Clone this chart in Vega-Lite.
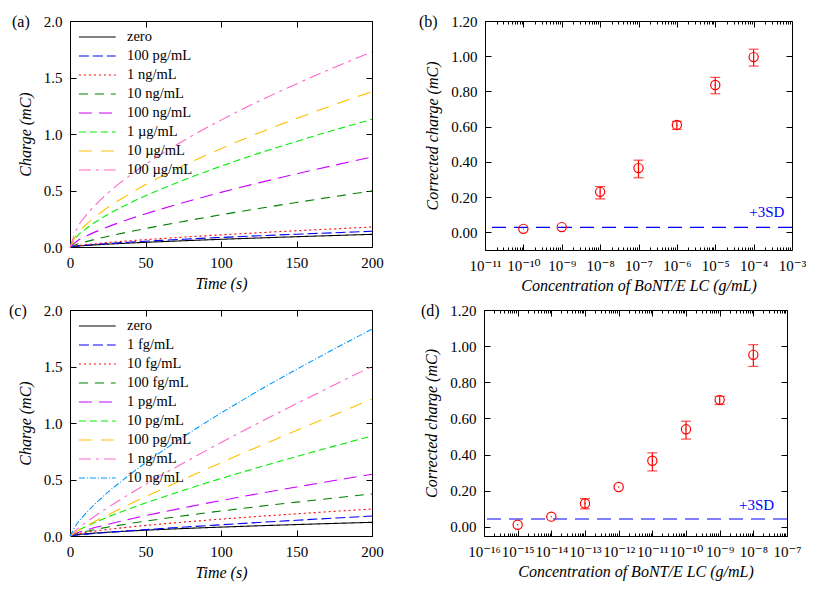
{
  "$schema": "https://vega.github.io/schema/vega-lite/v6.json",
  "background": "white",
  "padding": {"left": 8, "top": 13, "right": 5, "bottom": 5},
  "config": {
    "view": {"stroke": "black", "strokeWidth": 1},
    "font": "Liberation Serif",
    "axis": {"labelFont": "Liberation Serif, DejaVu Serif", "labelFontSize": 15, "labelColor": "black", "titleFont": "Liberation Serif", "titleFontSize": 16, "titleFontWeight": "normal", "titleFontStyle": "italic", "titleColor": "black", "tickColor": "black", "tickWidth": 1, "domain": false, "grid": false, "tickSize": -6, "labelPadding": 14, "labelFlush": false, "labelOverlap": false},
    "legend": {"orient": "top-left", "offset": 8, "padding": 0, "labelFont": "Liberation Serif", "labelFontSize": 14.5, "labelColor": "black", "symbolType": "M-1,0H4.2", "symbolSize": 200, "symbolStrokeWidth": 1.2, "labelOffset": 33, "rowPadding": 4},
    "title": {"font": "Liberation Serif", "fontSize": 16, "fontWeight": "normal", "color": "black", "anchor": "start", "frame": "group", "offset": 0, "baseline": "middle"}
  },
  "datasets": {
    "a_lines": [
      {"s":"zero","t":0,"q":0},{"s":"zero","t":5,"q":0.0079},{"s":"zero","t":10,"q":0.013},{"s":"zero","t":20,"q":0.0213},{"s":"zero","t":40,"q":0.0352},{"s":"zero","t":60,"q":0.0471},{"s":"zero","t":80,"q":0.0579},{"s":"zero","t":100,"q":0.068},{"s":"zero","t":125,"q":0.0799},{"s":"zero","t":150,"q":0.0911},{"s":"zero","t":175,"q":0.1017},{"s":"zero","t":200,"q":0.112},
      {"s":"100 pg/mL","t":0,"q":0},{"s":"100 pg/mL","t":5,"q":0.0098},{"s":"100 pg/mL","t":10,"q":0.0161},{"s":"100 pg/mL","t":20,"q":0.0265},{"s":"100 pg/mL","t":40,"q":0.0437},{"s":"100 pg/mL","t":60,"q":0.0584},{"s":"100 pg/mL","t":80,"q":0.0718},{"s":"100 pg/mL","t":100,"q":0.0844},{"s":"100 pg/mL","t":125,"q":0.0991},{"s":"100 pg/mL","t":150,"q":0.113},{"s":"100 pg/mL","t":175,"q":0.1263},{"s":"100 pg/mL","t":200,"q":0.139},
      {"s":"1 ng/mL","t":0,"q":0},{"s":"1 ng/mL","t":5,"q":0.0124},{"s":"1 ng/mL","t":10,"q":0.0205},{"s":"1 ng/mL","t":20,"q":0.0337},{"s":"1 ng/mL","t":40,"q":0.0556},{"s":"1 ng/mL","t":60,"q":0.0744},{"s":"1 ng/mL","t":80,"q":0.0915},{"s":"1 ng/mL","t":100,"q":0.1075},{"s":"1 ng/mL","t":125,"q":0.1262},{"s":"1 ng/mL","t":150,"q":0.1439},{"s":"1 ng/mL","t":175,"q":0.1608},{"s":"1 ng/mL","t":200,"q":0.177},
      {"s":"10 ng/mL","t":0,"q":0},{"s":"10 ng/mL","t":5,"q":0.0259},{"s":"10 ng/mL","t":10,"q":0.0451},{"s":"10 ng/mL","t":20,"q":0.0786},{"s":"10 ng/mL","t":40,"q":0.1369},{"s":"10 ng/mL","t":60,"q":0.1893},{"s":"10 ng/mL","t":80,"q":0.2383},{"s":"10 ng/mL","t":100,"q":0.285},{"s":"10 ng/mL","t":125,"q":0.3406},{"s":"10 ng/mL","t":150,"q":0.3941},{"s":"10 ng/mL","t":175,"q":0.4458},{"s":"10 ng/mL","t":200,"q":0.496},
      {"s":"100 ng/mL","t":0,"q":0},{"s":"100 ng/mL","t":5,"q":0.0559},{"s":"100 ng/mL","t":10,"q":0.0921},{"s":"100 ng/mL","t":20,"q":0.1516},{"s":"100 ng/mL","t":40,"q":0.25},{"s":"100 ng/mL","t":60,"q":0.3345},{"s":"100 ng/mL","t":80,"q":0.4115},{"s":"100 ng/mL","t":100,"q":0.4833},{"s":"100 ng/mL","t":125,"q":0.5677},{"s":"100 ng/mL","t":150,"q":0.6471},{"s":"100 ng/mL","t":175,"q":0.7231},{"s":"100 ng/mL","t":200,"q":0.796},
      {"s":"1 µg/mL","t":0,"q":0},{"s":"1 µg/mL","t":5,"q":0.099},{"s":"1 µg/mL","t":10,"q":0.1565},{"s":"1 µg/mL","t":20,"q":0.2471},{"s":"1 µg/mL","t":40,"q":0.3908},{"s":"1 µg/mL","t":60,"q":0.5103},{"s":"1 µg/mL","t":80,"q":0.6171},{"s":"1 µg/mL","t":100,"q":0.7154},{"s":"1 µg/mL","t":125,"q":0.8287},{"s":"1 µg/mL","t":150,"q":0.9345},{"s":"1 µg/mL","t":175,"q":1.0347},{"s":"1 µg/mL","t":200,"q":1.13},
      {"s":"10 µg/mL","t":0,"q":0},{"s":"10 µg/mL","t":5,"q":0.1205},{"s":"10 µg/mL","t":10,"q":0.1904},{"s":"10 µg/mL","t":20,"q":0.3007},{"s":"10 µg/mL","t":40,"q":0.4755},{"s":"10 µg/mL","t":60,"q":0.621},{"s":"10 µg/mL","t":80,"q":0.7509},{"s":"10 µg/mL","t":100,"q":0.8705},{"s":"10 µg/mL","t":125,"q":1.0084},{"s":"10 µg/mL","t":150,"q":1.1371},{"s":"10 µg/mL","t":175,"q":1.2591},{"s":"10 µg/mL","t":200,"q":1.375},
      {"s":"100 µg/mL","t":0,"q":0},{"s":"100 µg/mL","t":5,"q":0.1754},{"s":"100 µg/mL","t":10,"q":0.2693},{"s":"100 µg/mL","t":20,"q":0.4139},{"s":"100 µg/mL","t":40,"q":0.6362},{"s":"100 µg/mL","t":60,"q":0.8186},{"s":"100 µg/mL","t":80,"q":0.9781},{"s":"100 µg/mL","t":100,"q":1.1228},{"s":"100 µg/mL","t":125,"q":1.2902},{"s":"100 µg/mL","t":150,"q":1.4431},{"s":"100 µg/mL","t":175,"q":1.5888},{"s":"100 µg/mL","t":200,"q":1.726}
    ],
    "c_lines": [
      {"s":"zero","t":0,"q":0},{"s":"zero","t":5,"q":0.0123},{"s":"zero","t":10,"q":0.0189},{"s":"zero","t":20,"q":0.029},{"s":"zero","t":40,"q":0.0446},{"s":"zero","t":60,"q":0.0574},{"s":"zero","t":80,"q":0.0686},{"s":"zero","t":100,"q":0.0787},{"s":"zero","t":125,"q":0.0904},{"s":"zero","t":150,"q":0.1012},{"s":"zero","t":175,"q":0.1114},{"s":"zero","t":200,"q":0.121},
      {"s":"1 fg/mL","t":0,"q":0},{"s":"1 fg/mL","t":5,"q":0.0083},{"s":"1 fg/mL","t":10,"q":0.0147},{"s":"1 fg/mL","t":20,"q":0.0262},{"s":"1 fg/mL","t":40,"q":0.0466},{"s":"1 fg/mL","t":60,"q":0.0652},{"s":"1 fg/mL","t":80,"q":0.0828},{"s":"1 fg/mL","t":100,"q":0.0996},{"s":"1 fg/mL","t":125,"q":0.1198},{"s":"1 fg/mL","t":150,"q":0.1394},{"s":"1 fg/mL","t":175,"q":0.1584},{"s":"1 fg/mL","t":200,"q":0.177},
      {"s":"10 fg/mL","t":0,"q":0},{"s":"10 fg/mL","t":5,"q":0.0194},{"s":"10 fg/mL","t":10,"q":0.0312},{"s":"10 fg/mL","t":20,"q":0.0499},{"s":"10 fg/mL","t":40,"q":0.08},{"s":"10 fg/mL","t":60,"q":0.1054},{"s":"10 fg/mL","t":80,"q":0.1282},{"s":"10 fg/mL","t":100,"q":0.1492},{"s":"10 fg/mL","t":125,"q":0.1735},{"s":"10 fg/mL","t":150,"q":0.1965},{"s":"10 fg/mL","t":175,"q":0.2183},{"s":"10 fg/mL","t":200,"q":0.239},
      {"s":"100 fg/mL","t":0,"q":0},{"s":"100 fg/mL","t":5,"q":0.0234},{"s":"100 fg/mL","t":10,"q":0.0393},{"s":"100 fg/mL","t":20,"q":0.0661},{"s":"100 fg/mL","t":40,"q":0.1113},{"s":"100 fg/mL","t":60,"q":0.1508},{"s":"100 fg/mL","t":80,"q":0.1872},{"s":"100 fg/mL","t":100,"q":0.2212},{"s":"100 fg/mL","t":125,"q":0.2615},{"s":"100 fg/mL","t":150,"q":0.2997},{"s":"100 fg/mL","t":175,"q":0.3365},{"s":"100 fg/mL","t":200,"q":0.372},
      {"s":"1 pg/mL","t":0,"q":0},{"s":"1 pg/mL","t":5,"q":0.0286},{"s":"1 pg/mL","t":10,"q":0.0497},{"s":"1 pg/mL","t":20,"q":0.0865},{"s":"1 pg/mL","t":40,"q":0.1508},{"s":"1 pg/mL","t":60,"q":0.2084},{"s":"1 pg/mL","t":80,"q":0.2624},{"s":"1 pg/mL","t":100,"q":0.3137},{"s":"1 pg/mL","t":125,"q":0.3749},{"s":"1 pg/mL","t":150,"q":0.4338},{"s":"1 pg/mL","t":175,"q":0.4907},{"s":"1 pg/mL","t":200,"q":0.546},
      {"s":"10 pg/mL","t":0,"q":0},{"s":"10 pg/mL","t":5,"q":0.0463},{"s":"10 pg/mL","t":10,"q":0.0805},{"s":"10 pg/mL","t":20,"q":0.1403},{"s":"10 pg/mL","t":40,"q":0.2443},{"s":"10 pg/mL","t":60,"q":0.3378},{"s":"10 pg/mL","t":80,"q":0.4252},{"s":"10 pg/mL","t":100,"q":0.5085},{"s":"10 pg/mL","t":125,"q":0.6076},{"s":"10 pg/mL","t":150,"q":0.7031},{"s":"10 pg/mL","t":175,"q":0.7953},{"s":"10 pg/mL","t":200,"q":0.885},
      {"s":"100 pg/mL","t":0,"q":0},{"s":"100 pg/mL","t":5,"q":0.0438},{"s":"100 pg/mL","t":10,"q":0.0817},{"s":"100 pg/mL","t":20,"q":0.1522},{"s":"100 pg/mL","t":40,"q":0.2844},{"s":"100 pg/mL","t":60,"q":0.4093},{"s":"100 pg/mL","t":80,"q":0.5307},{"s":"100 pg/mL","t":100,"q":0.6483},{"s":"100 pg/mL","t":125,"q":0.7926},{"s":"100 pg/mL","t":150,"q":0.9339},{"s":"100 pg/mL","t":175,"q":1.073},{"s":"100 pg/mL","t":200,"q":1.21},
      {"s":"1 ng/mL","t":0,"q":0},{"s":"1 ng/mL","t":5,"q":0.0629},{"s":"1 ng/mL","t":10,"q":0.114},{"s":"1 ng/mL","t":20,"q":0.2069},{"s":"1 ng/mL","t":40,"q":0.3759},{"s":"1 ng/mL","t":60,"q":0.5328},{"s":"1 ng/mL","t":80,"q":0.6822},{"s":"1 ng/mL","t":100,"q":0.8265},{"s":"1 ng/mL","t":125,"q":1.0014},{"s":"1 ng/mL","t":150,"q":1.1706},{"s":"1 ng/mL","t":175,"q":1.3373},{"s":"1 ng/mL","t":200,"q":1.5},
      {"s":"10 ng/mL","t":0,"q":0},{"s":"10 ng/mL","t":5,"q":0.1151},{"s":"10 ng/mL","t":10,"q":0.1934},{"s":"10 ng/mL","t":20,"q":0.3254},{"s":"10 ng/mL","t":40,"q":0.5474},{"s":"10 ng/mL","t":60,"q":0.7419},{"s":"10 ng/mL","t":80,"q":0.9207},{"s":"10 ng/mL","t":100,"q":1.0879},{"s":"10 ng/mL","t":125,"q":1.2865},{"s":"10 ng/mL","t":150,"q":1.4744},{"s":"10 ng/mL","t":175,"q":1.6556},{"s":"10 ng/mL","t":200,"q":1.83}
    ],
    "b_pts": [
      {"c":1e-10,"v":0.02,"lo":null,"hi":null},
      {"c":1e-9,"v":0.03,"lo":null,"hi":null},
      {"c":1e-8,"v":0.23,"lo":0.19,"hi":0.26},
      {"c":1e-7,"v":0.365,"lo":0.31,"hi":0.41},
      {"c":1e-6,"v":0.61,"lo":0.585,"hi":0.63},
      {"c":1e-5,"v":0.837,"lo":0.787,"hi":0.88},
      {"c":1e-4,"v":0.995,"lo":0.944,"hi":1.04}
    ],
    "d_pts": [
      {"c":1e-15,"v":0.012,"lo":null,"hi":null},
      {"c":1e-14,"v":0.057,"lo":null,"hi":null},
      {"c":1e-13,"v":0.13,"lo":0.1,"hi":0.157},
      {"c":1e-12,"v":0.221,"lo":null,"hi":null},
      {"c":1e-11,"v":0.366,"lo":0.31,"hi":0.41},
      {"c":1e-10,"v":0.54,"lo":0.486,"hi":0.585},
      {"c":1e-9,"v":0.703,"lo":0.677,"hi":0.722},
      {"c":1e-8,"v":0.952,"lo":0.888,"hi":1.008}
    ],
    "b_ref": [{"v":0.028,"c":2.2e-4,"tv":0.118,"label":"+3SD"}],
    "d_ref": [{"v":0.044,"c":1.25e-8,"tv":0.124,"label":"+3SD"}]
  },
  "resolve": {"scale": {"x": "independent", "y": "independent", "color": "independent", "strokeDash": "independent"}, "legend": {"color": "independent", "strokeDash": "independent"}},
  "spacing": 8,
  "vconcat": [
    {
      "spacing": 34,
      "resolve": {"scale": {"x": "independent", "y": "independent", "color": "independent", "strokeDash": "independent"}, "legend": {"color": "independent", "strokeDash": "independent"}},
      "hconcat": [
        {
          "width": 302, "height": 226,
          "title": {"text": "(a)", "dx": -58, "dy": 20},
          "data": {"name": "a_lines"},
          "resolve": {"axis": {"x": "independent", "y": "independent"}},
          "layer": [
            {
              "mark": {"type": "line", "strokeWidth": 1.1, "interpolate": "monotone"},
              "encoding": {
                "x": {"field": "t", "type": "quantitative", "scale": {"domain": [0, 200], "nice": false}, "axis": {"orient": "bottom", "values": [0, 50, 100, 150, 200], "title": "Time (s)", "titlePadding": 5}},
                "y": {"field": "q", "type": "quantitative", "scale": {"domain": [0, 2], "nice": false}, "axis": {"orient": "left", "values": [0, 0.5, 1, 1.5, 2], "format": ".1f", "title": "Charge (mC)", "titlePadding": 10}},
                "color": {"field": "s", "type": "nominal", "scale": {"domain": ["zero", "100 pg/mL", "1 ng/mL", "10 ng/mL", "100 ng/mL", "1 µg/mL", "10 µg/mL", "100 µg/mL"], "range": ["#000000", "#0000FF", "#FF0000", "#008000", "#CC00FF", "#00EE00", "#FFC000", "#FF66CC"]}, "legend": {"title": null}},
                "strokeDash": {"field": "s", "type": "nominal", "scale": {"domain": ["zero", "100 pg/mL", "1 ng/mL", "10 ng/mL", "100 ng/mL", "1 µg/mL", "10 µg/mL", "100 µg/mL"], "range": [[1, 0], [10, 4], [2, 3], [9, 7], [13, 7], [7, 4], [13, 9], [12, 5, 3, 5]]}, "legend": {"title": null}}
              }
            },
            {
              "mark": {"type": "point", "opacity": 0, "size": 1},
              "encoding": {
                "x": {"field": "t", "type": "quantitative", "scale": {"domain": [0, 200], "nice": false}, "axis": {"orient": "top", "values": [0, 50, 100, 150, 200], "labels": false, "title": null}},
                "y": {"field": "q", "type": "quantitative", "scale": {"domain": [0, 2], "nice": false}, "axis": {"orient": "right", "values": [0, 0.5, 1, 1.5, 2], "labels": false, "title": null}}
              }
            }
          ]
        },
        {
          "width": 307, "height": 229,
          "title": {"text": "(b)", "dx": -66, "dy": 20},
          "resolve": {"axis": {"x": "independent", "y": "independent"}},
          "layer": [
            {
              "data": {"name": "b_ref"},
              "mark": {"type": "rule", "color": "#0000FF", "strokeDash": [14, 8], "strokeWidth": 1.2},
              "encoding": {
                "y": {"field": "v", "type": "quantitative", "scale": {"domain": [-0.1, 1.2], "nice": false}, "axis": {"orient": "left", "values": [0, 0.2, 0.4, 0.6, 0.8, 1, 1.2], "format": ".2f", "title": "Corrected charge (mC)", "titlePadding": 10}}
              }
            },
            {
              "data": {"name": "b_ref"},
              "mark": {"type": "text", "color": "#0000FF", "font": "Liberation Serif", "fontSize": 15, "align": "center", "baseline": "middle"},
              "encoding": {
                "x": {"field": "c", "type": "quantitative", "scale": {"type": "log", "domain": [1e-11, 1e-3], "nice": false}, "axis": {"orient": "bottom", "values": [1e-11, 1e-10, 1e-9, 1e-8, 1e-7, 1e-6, 1e-5, 1e-4, 1e-3], "labelExpr": "'10⁻' + (abs(round(log(datum.value)/LN10)) >= 10 ? substring('⁰¹²³⁴⁵⁶⁷⁸⁹', floor(abs(round(log(datum.value)/LN10))/10), floor(abs(round(log(datum.value)/LN10))/10)+1) : '') + substring('⁰¹²³⁴⁵⁶⁷⁸⁹', abs(round(log(datum.value)/LN10)) % 10, abs(round(log(datum.value)/LN10)) % 10 + 1)", "title": "Concentration of BoNT/E LC (g/mL)", "titlePadding": 4}},
                "y": {"field": "tv", "type": "quantitative", "scale": {"domain": [-0.1, 1.2], "nice": false}, "axis": null},
                "text": {"field": "label"}
              }
            },
            {
              "data": {"name": "b_pts"},
              "mark": {"type": "rule", "color": "#FF0000", "strokeWidth": 1.2},
              "encoding": {
                "x": {"field": "c", "type": "quantitative", "scale": {"type": "log", "domain": [1e-11, 1e-3], "nice": false}, "axis": {"orient": "top", "values": [1e-11, 1e-10, 1e-9, 1e-8, 1e-7, 1e-6, 1e-5, 1e-4, 1e-3], "labels": false, "title": null}},
                "y": {"field": "lo", "type": "quantitative", "scale": {"domain": [-0.1, 1.2], "nice": false}, "axis": {"orient": "right", "values": [0, 0.2, 0.4, 0.6, 0.8, 1, 1.2], "labels": false, "title": null}},
                "y2": {"field": "hi"}
              }
            },
            {
              "data": {"name": "b_pts"},
              "mark": {"type": "tick", "orient": "horizontal", "color": "#FF0000", "size": 10, "thickness": 1.2},
              "encoding": {
                "x": {"field": "c", "type": "quantitative", "scale": {"type": "log", "domain": [1e-11, 1e-3], "nice": false}, "axis": {"orient": "bottom", "values": [2e-11,3e-11,4e-11,5e-11,6e-11,7e-11,8e-11,9e-11,2e-10,3e-10,4e-10,5e-10,6e-10,7e-10,8e-10,9e-10,2e-9,3e-9,4e-9,5e-9,6e-9,7e-9,8e-9,9e-9,2e-8,3e-8,4e-8,5e-8,6e-8,7e-8,8e-8,9e-8,2e-7,3e-7,4e-7,5e-7,6e-7,7e-7,8e-7,9e-7,2e-6,3e-6,4e-6,5e-6,6e-6,7e-6,8e-6,9e-6,2e-5,3e-5,4e-5,5e-5,6e-5,7e-5,8e-5,9e-5,2e-4,3e-4,4e-4,5e-4,6e-4,7e-4,8e-4,9e-4], "labels": false, "tickSize": -3, "title": null}},
                "y": {"field": "lo", "type": "quantitative", "scale": {"domain": [-0.1, 1.2], "nice": false}, "axis": null}
              }
            },
            {
              "data": {"name": "b_pts"},
              "mark": {"type": "tick", "orient": "horizontal", "color": "#FF0000", "size": 10, "thickness": 1.2},
              "encoding": {
                "x": {"field": "c", "type": "quantitative", "scale": {"type": "log", "domain": [1e-11, 1e-3], "nice": false}, "axis": {"orient": "top", "values": [2e-11,3e-11,4e-11,5e-11,6e-11,7e-11,8e-11,9e-11,2e-10,3e-10,4e-10,5e-10,6e-10,7e-10,8e-10,9e-10,2e-9,3e-9,4e-9,5e-9,6e-9,7e-9,8e-9,9e-9,2e-8,3e-8,4e-8,5e-8,6e-8,7e-8,8e-8,9e-8,2e-7,3e-7,4e-7,5e-7,6e-7,7e-7,8e-7,9e-7,2e-6,3e-6,4e-6,5e-6,6e-6,7e-6,8e-6,9e-6,2e-5,3e-5,4e-5,5e-5,6e-5,7e-5,8e-5,9e-5,2e-4,3e-4,4e-4,5e-4,6e-4,7e-4,8e-4,9e-4], "labels": false, "tickSize": -3, "title": null}},
                "y": {"field": "hi", "type": "quantitative", "scale": {"domain": [-0.1, 1.2], "nice": false}, "axis": null}
              }
            },
            {
              "data": {"name": "b_pts"},
              "mark": {"type": "point", "shape": "circle", "filled": false, "color": "#FF0000", "strokeWidth": 1.2, "size": 85, "opacity": 1},
              "encoding": {
                "x": {"field": "c", "type": "quantitative", "scale": {"type": "log", "domain": [1e-11, 1e-3], "nice": false}, "axis": null},
                "y": {"field": "v", "type": "quantitative", "scale": {"domain": [-0.1, 1.2], "nice": false}, "axis": null}
              }
            },
            {
              "data": {"name": "b_pts"},
              "mark": {"type": "point", "shape": "circle", "filled": true, "color": "#FF0000", "size": 2, "opacity": 1},
              "encoding": {
                "x": {"field": "c", "type": "quantitative", "scale": {"type": "log", "domain": [1e-11, 1e-3], "nice": false}, "axis": null},
                "y": {"field": "v", "type": "quantitative", "scale": {"domain": [-0.1, 1.2], "nice": false}, "axis": null}
              }
            }
          ]
        }
      ]
    },
    {
      "spacing": 36,
      "resolve": {"scale": {"x": "independent", "y": "independent", "color": "independent", "strokeDash": "independent"}, "legend": {"color": "independent", "strokeDash": "independent"}},
      "hconcat": [
        {
          "width": 302, "height": 226,
          "title": {"text": "(c)", "dx": -61, "dy": 20},
          "data": {"name": "c_lines"},
          "resolve": {"axis": {"x": "independent", "y": "independent"}},
          "layer": [
            {
              "mark": {"type": "line", "strokeWidth": 1.1, "interpolate": "monotone"},
              "encoding": {
                "x": {"field": "t", "type": "quantitative", "scale": {"domain": [0, 200], "nice": false}, "axis": {"orient": "bottom", "values": [0, 50, 100, 150, 200], "title": "Time (s)", "titlePadding": 5}},
                "y": {"field": "q", "type": "quantitative", "scale": {"domain": [0, 2], "nice": false}, "axis": {"orient": "left", "values": [0, 0.5, 1, 1.5, 2], "format": ".1f", "title": "Charge (mC)", "titlePadding": 10}},
                "color": {"field": "s", "type": "nominal", "scale": {"domain": ["zero", "1 fg/mL", "10 fg/mL", "100 fg/mL", "1 pg/mL", "10 pg/mL", "100 pg/mL", "1 ng/mL", "10 ng/mL"], "range": ["#000000", "#0000FF", "#FF0000", "#008000", "#CC00FF", "#00EE00", "#FFC000", "#FF66CC", "#0099FF"]}, "legend": {"title": null}},
                "strokeDash": {"field": "s", "type": "nominal", "scale": {"domain": ["zero", "1 fg/mL", "10 fg/mL", "100 fg/mL", "1 pg/mL", "10 pg/mL", "100 pg/mL", "1 ng/mL", "10 ng/mL"], "range": [[1, 0], [10, 4], [2, 3], [9, 7], [13, 7], [7, 4], [13, 9], [12, 5, 3, 5], [6, 2, 1, 2]]}, "legend": {"title": null}}
              }
            },
            {
              "mark": {"type": "point", "opacity": 0, "size": 1},
              "encoding": {
                "x": {"field": "t", "type": "quantitative", "scale": {"domain": [0, 200], "nice": false}, "axis": {"orient": "top", "values": [0, 50, 100, 150, 200], "labels": false, "title": null}},
                "y": {"field": "q", "type": "quantitative", "scale": {"domain": [0, 2], "nice": false}, "axis": {"orient": "right", "values": [0, 0.5, 1, 1.5, 2], "labels": false, "title": null}}
              }
            }
          ]
        },
        {
          "width": 303, "height": 226,
          "title": {"text": "(d)", "dx": -63, "dy": 20},
          "resolve": {"axis": {"x": "independent", "y": "independent"}},
          "layer": [
            {
              "data": {"name": "d_ref"},
              "mark": {"type": "rule", "color": "#0000FF", "strokeDash": [14, 8], "strokeWidth": 1.2},
              "encoding": {
                "y": {"field": "v", "type": "quantitative", "scale": {"domain": [-0.05, 1.2], "nice": false}, "axis": {"orient": "left", "values": [0, 0.2, 0.4, 0.6, 0.8, 1, 1.2], "format": ".2f", "title": "Corrected charge (mC)", "titlePadding": 10}}
              }
            },
            {
              "data": {"name": "d_ref"},
              "mark": {"type": "text", "color": "#0000FF", "font": "Liberation Serif", "fontSize": 15, "align": "center", "baseline": "middle"},
              "encoding": {
                "x": {"field": "c", "type": "quantitative", "scale": {"type": "log", "domain": [1e-16, 1e-7], "nice": false}, "axis": {"orient": "bottom", "values": [1e-16, 1e-15, 1e-14, 1e-13, 1e-12, 1e-11, 1e-10, 1e-9, 1e-8, 1e-7], "labelExpr": "'10⁻' + (abs(round(log(datum.value)/LN10)) >= 10 ? substring('⁰¹²³⁴⁵⁶⁷⁸⁹', floor(abs(round(log(datum.value)/LN10))/10), floor(abs(round(log(datum.value)/LN10))/10)+1) : '') + substring('⁰¹²³⁴⁵⁶⁷⁸⁹', abs(round(log(datum.value)/LN10)) % 10, abs(round(log(datum.value)/LN10)) % 10 + 1)", "title": "Concentration of BoNT/E LC (g/mL)", "titlePadding": 4}},
                "y": {"field": "tv", "type": "quantitative", "scale": {"domain": [-0.05, 1.2], "nice": false}, "axis": null},
                "text": {"field": "label"}
              }
            },
            {
              "data": {"name": "d_pts"},
              "mark": {"type": "rule", "color": "#FF0000", "strokeWidth": 1.2},
              "encoding": {
                "x": {"field": "c", "type": "quantitative", "scale": {"type": "log", "domain": [1e-16, 1e-7], "nice": false}, "axis": {"orient": "top", "values": [1e-16, 1e-15, 1e-14, 1e-13, 1e-12, 1e-11, 1e-10, 1e-9, 1e-8, 1e-7], "labels": false, "title": null}},
                "y": {"field": "lo", "type": "quantitative", "scale": {"domain": [-0.05, 1.2], "nice": false}, "axis": {"orient": "right", "values": [0, 0.2, 0.4, 0.6, 0.8, 1, 1.2], "labels": false, "title": null}},
                "y2": {"field": "hi"}
              }
            },
            {
              "data": {"name": "d_pts"},
              "mark": {"type": "tick", "orient": "horizontal", "color": "#FF0000", "size": 10, "thickness": 1.2},
              "encoding": {
                "x": {"field": "c", "type": "quantitative", "scale": {"type": "log", "domain": [1e-16, 1e-7], "nice": false}, "axis": {"orient": "bottom", "values": [2e-16,3e-16,4e-16,5e-16,6e-16,7e-16,8e-16,9e-16,2e-15,3e-15,4e-15,5e-15,6e-15,7e-15,8e-15,9e-15,2e-14,3e-14,4e-14,5e-14,6e-14,7e-14,8e-14,9e-14,2e-13,3e-13,4e-13,5e-13,6e-13,7e-13,8e-13,9e-13,2e-12,3e-12,4e-12,5e-12,6e-12,7e-12,8e-12,9e-12,2e-11,3e-11,4e-11,5e-11,6e-11,7e-11,8e-11,9e-11,2e-10,3e-10,4e-10,5e-10,6e-10,7e-10,8e-10,9e-10,2e-9,3e-9,4e-9,5e-9,6e-9,7e-9,8e-9,9e-9,2e-8,3e-8,4e-8,5e-8,6e-8,7e-8,8e-8,9e-8], "labels": false, "tickSize": -3, "title": null}},
                "y": {"field": "lo", "type": "quantitative", "scale": {"domain": [-0.05, 1.2], "nice": false}, "axis": null}
              }
            },
            {
              "data": {"name": "d_pts"},
              "mark": {"type": "tick", "orient": "horizontal", "color": "#FF0000", "size": 10, "thickness": 1.2},
              "encoding": {
                "x": {"field": "c", "type": "quantitative", "scale": {"type": "log", "domain": [1e-16, 1e-7], "nice": false}, "axis": {"orient": "top", "values": [2e-16,3e-16,4e-16,5e-16,6e-16,7e-16,8e-16,9e-16,2e-15,3e-15,4e-15,5e-15,6e-15,7e-15,8e-15,9e-15,2e-14,3e-14,4e-14,5e-14,6e-14,7e-14,8e-14,9e-14,2e-13,3e-13,4e-13,5e-13,6e-13,7e-13,8e-13,9e-13,2e-12,3e-12,4e-12,5e-12,6e-12,7e-12,8e-12,9e-12,2e-11,3e-11,4e-11,5e-11,6e-11,7e-11,8e-11,9e-11,2e-10,3e-10,4e-10,5e-10,6e-10,7e-10,8e-10,9e-10,2e-9,3e-9,4e-9,5e-9,6e-9,7e-9,8e-9,9e-9,2e-8,3e-8,4e-8,5e-8,6e-8,7e-8,8e-8,9e-8], "labels": false, "tickSize": -3, "title": null}},
                "y": {"field": "hi", "type": "quantitative", "scale": {"domain": [-0.05, 1.2], "nice": false}, "axis": null}
              }
            },
            {
              "data": {"name": "d_pts"},
              "mark": {"type": "point", "shape": "circle", "filled": false, "color": "#FF0000", "strokeWidth": 1.2, "size": 85, "opacity": 1},
              "encoding": {
                "x": {"field": "c", "type": "quantitative", "scale": {"type": "log", "domain": [1e-16, 1e-7], "nice": false}, "axis": null},
                "y": {"field": "v", "type": "quantitative", "scale": {"domain": [-0.05, 1.2], "nice": false}, "axis": null}
              }
            },
            {
              "data": {"name": "d_pts"},
              "mark": {"type": "point", "shape": "circle", "filled": true, "color": "#FF0000", "size": 2, "opacity": 1},
              "encoding": {
                "x": {"field": "c", "type": "quantitative", "scale": {"type": "log", "domain": [1e-16, 1e-7], "nice": false}, "axis": null},
                "y": {"field": "v", "type": "quantitative", "scale": {"domain": [-0.05, 1.2], "nice": false}, "axis": null}
              }
            }
          ]
        }
      ]
    }
  ]
}
